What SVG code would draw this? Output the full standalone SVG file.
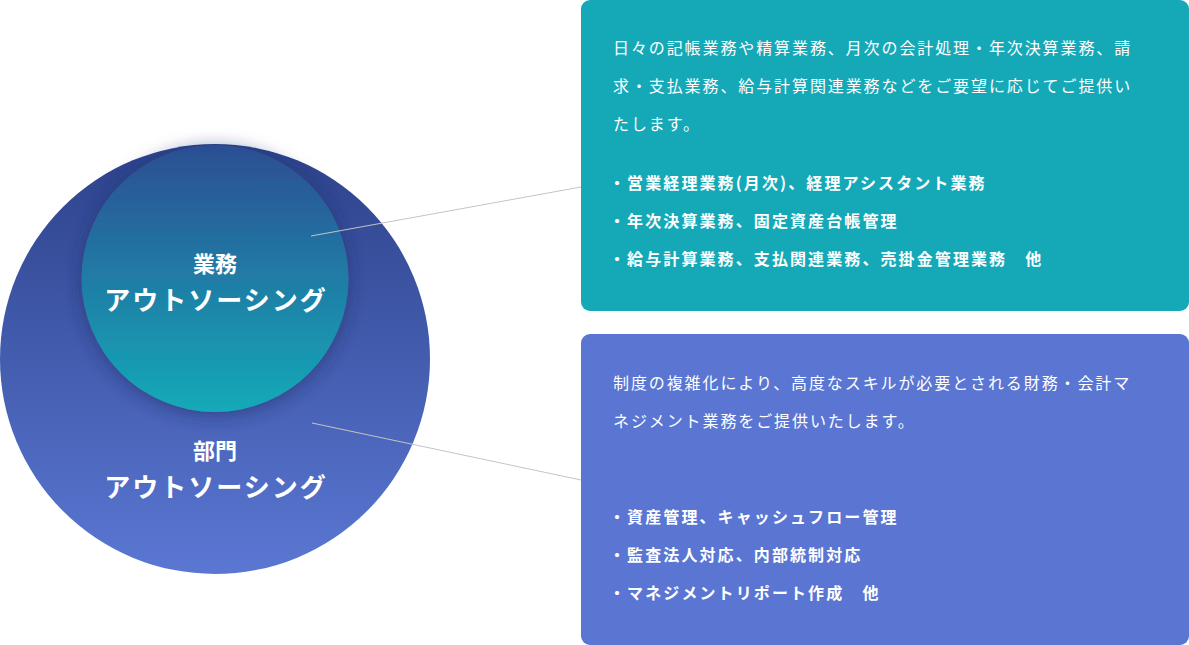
<svg xmlns="http://www.w3.org/2000/svg" width="1189" height="645" viewBox="0 0 1189 645">
  <style>
    .jp { font-family: "Noto Sans CJK JP", "Noto Sans", sans-serif; fill: #ffffff; }
    .title { font-weight: 700; text-anchor: middle; }
    .t1 { font-size: 22px; }
    .t2 { font-size: 26px; letter-spacing: 2px; }
    .para { font-size: 16px; font-weight: 400; letter-spacing: 1.9px; }
    .bullet { font-size: 16px; font-weight: 700; letter-spacing: 2.1px; }
    .conn { stroke: #c4c4c4; stroke-width: 1; fill: none; }
  </style>
  <defs>
    <linearGradient id="gOuter" x1="0" y1="0" x2="0" y2="1">
      <stop offset="0" stop-color="#2d428a"/>
      <stop offset="1" stop-color="#5a77d3"/>
    </linearGradient>
    <linearGradient id="gInner" x1="0" y1="0" x2="0" y2="1">
      <stop offset="0" stop-color="#2c4e93"/>
      <stop offset="1" stop-color="#14aab8"/>
    </linearGradient>
    <filter id="shadow" x="-30%" y="-30%" width="160%" height="160%">
      <feGaussianBlur in="SourceAlpha" stdDeviation="9"/>
      <feOffset dx="0" dy="3" result="b"/>
      <feFlood flood-color="#1c2a66" flood-opacity="0.6"/>
      <feComposite in2="b" operator="in"/>
      <feMerge>
        <feMergeNode/>
        <feMergeNode in="SourceGraphic"/>
      </feMerge>
    </filter>
  </defs>

  <g id="outer-circle">
    <circle cx="215" cy="359" r="215" fill="url(#gOuter)"/>
    <text class="jp title t1" x="215" y="459">部門</text>
    <text class="jp title t2" x="216" y="497">アウトソーシング</text>
  </g>

  <g id="inner-circle">
    <circle cx="215" cy="278.5" r="133.5" fill="url(#gInner)" filter="url(#shadow)"/>
    <text class="jp title t1" x="215" y="272">業務</text>
    <text class="jp title t2" x="216" y="310">アウトソーシング</text>
  </g>

  <g id="connectors">
    <line class="conn" x1="311" y1="236" x2="581" y2="187"/>
    <line class="conn" x1="312" y1="423" x2="581" y2="480"/>
  </g>

  <g id="box-gyomu">
    <rect x="581" y="0" width="608" height="311" rx="9" fill="#15a9b8"/>
    <text class="jp para" x="613" y="54">日々の記帳業務や精算業務、月次の会計処理・年次決算業務、請</text>
    <text class="jp para" x="613" y="92">求・支払業務、給与計算関連業務などをご要望に応じてご提供い</text>
    <text class="jp para" x="613" y="130">たします。</text>
    <text class="jp bullet" x="609" y="189">・営業経理業務(月次)、経理アシスタント業務</text>
    <text class="jp bullet" x="609" y="227">・年次決算業務、固定資産台帳管理</text>
    <text class="jp bullet" x="609" y="265">・給与計算業務、支払関連業務、売掛金管理業務　他</text>
  </g>

  <g id="box-bumon">
    <rect x="581" y="334" width="608" height="311" rx="9" fill="#5a76d2"/>
    <text class="jp para" x="613" y="389">制度の複雑化により、高度なスキルが必要とされる財務・会計マ</text>
    <text class="jp para" x="613" y="427">ネジメント業務をご提供いたします。</text>
    <text class="jp bullet" x="609" y="523">・資産管理、キャッシュフロー管理</text>
    <text class="jp bullet" x="609" y="561">・監査法人対応、内部統制対応</text>
    <text class="jp bullet" x="609" y="599">・マネジメントリポート作成　他</text>
  </g>
</svg>
